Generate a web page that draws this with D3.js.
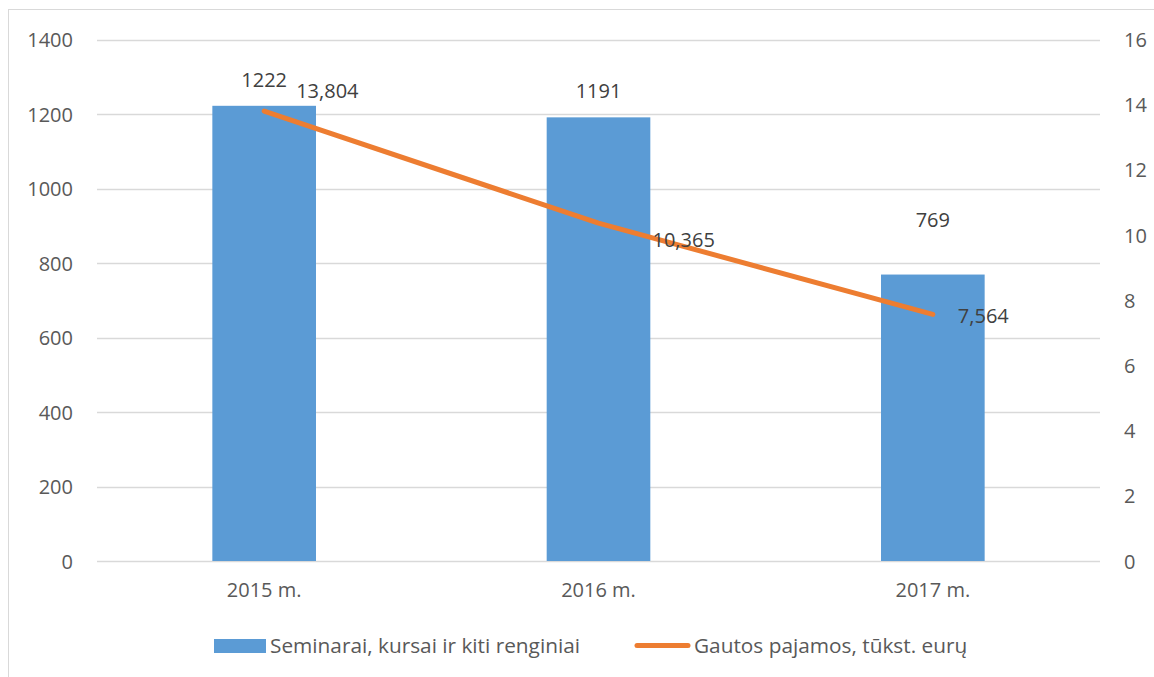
<!DOCTYPE html>
<html>
<head>
<meta charset="utf-8">
<script src="https://cdn.jsdelivr.net/npm/d3@7"></script>
<style>
  html, body { margin: 0; padding: 0; background: #fff; }
  svg { display: block; }
  text { font-family: "Open Sans", "Noto Sans", sans-serif; }
</style>
</head>
<body>
<svg id="chart" width="1154" height="677"></svg>
<script>
// ---- Data ----
const categories = ["2015 m.", "2016 m.", "2017 m."];
const eventCounts = [1222, 1191, 769];
const incomeValues = [13.804, 10.365, 7.564];
const incomeLabels = ["13,804", "10,365", "7,564"];
const leftTicks = [0, 200, 400, 600, 800, 1000, 1200, 1400];
const rightTicks = [0, 2, 4, 6, 8, 10, 12, 14, 16];
const seriesNames = ["Seminarai, kursai ir kiti renginiai", "Gautos pajamos, tūkst. eurų"];

// ---- Layout ----
const W = 1154, H = 677;
const plot = { left: 97, right: 1100, top: 39.5, bottom: 561 };
const barColor = "#5B9BD5", lineColor = "#ED7D31";
const gridColor = "#d9d9d9", tickColor = "#595959", labelColor = "#404040";
const fontSize = 20;

const svg = d3.select("#chart");
svg.append("rect").attr("width", W).attr("height", H).attr("fill", "#fff");
// chart border
svg.append("rect").attr("x", 8.5).attr("y", 9.5).attr("width", W + 10).attr("height", H + 10)
  .attr("fill", "none").attr("stroke", gridColor).attr("stroke-width", 1);

const x = d3.scaleBand().domain(categories).range([plot.left, plot.right])
  .paddingInner(0.69).paddingOuter(0.345);
const yL = d3.scaleLinear().domain([0, 1400]).range([plot.bottom, plot.top]);
const yR = d3.scaleLinear().domain([0, 16]).range([plot.bottom, plot.top]);
const cx = c => x(c) + x.bandwidth() / 2;

// gridlines
svg.append("g").selectAll("line").data(leftTicks).join("line")
  .attr("x1", plot.left).attr("x2", plot.right)
  .attr("y1", d => Math.round(yL(d)) + 0.5).attr("y2", d => Math.round(yL(d)) + 0.5)
  .attr("stroke", gridColor).attr("stroke-width", 1.5);

// left axis
const leftAxis = d3.axisLeft(yL).tickValues(leftTicks).tickFormat(d3.format("d")).tickSize(0).tickPadding(0);
const gL = svg.append("g").attr("transform", `translate(73,0)`).call(leftAxis);
gL.select(".domain").remove();
gL.selectAll("text").attr("font-size", fontSize).attr("fill", tickColor)
  .attr("font-family", "Open Sans").attr("dy", "0.35em");

// right axis
const rightAxis = d3.axisRight(yR).tickValues(rightTicks).tickFormat(d3.format("d")).tickSize(0).tickPadding(0);
const gR = svg.append("g").attr("transform", `translate(1124,0)`).call(rightAxis);
gR.select(".domain").remove();
gR.selectAll("text").attr("font-size", fontSize).attr("fill", tickColor)
  .attr("font-family", "Open Sans").attr("dy", "0.35em");

// bottom axis
const bottomAxis = d3.axisBottom(x).tickSize(0).tickPadding(0);
const gB = svg.append("g").attr("transform", `translate(0,${plot.bottom + 22})`).call(bottomAxis);
gB.select(".domain").remove();
gB.selectAll("text").attr("font-size", fontSize).attr("fill", tickColor)
  .attr("font-family", "Open Sans").attr("dy", "0.7em");

// bars
svg.append("g").selectAll("rect").data(eventCounts).join("rect")
  .attr("x", (d, i) => x(categories[i]))
  .attr("width", x.bandwidth())
  .attr("y", d => yL(d))
  .attr("height", d => plot.bottom - yL(d))
  .attr("fill", barColor);

// bar labels (Excel moved the last label up to clear the line)
const barLabelLift = { "2017 m.": 29 };
svg.append("g").selectAll("text").data(eventCounts).join("text")
  .attr("x", (d, i) => cx(categories[i]))
  .attr("y", (d, i) => yL(d) - 26 - (barLabelLift[categories[i]] || 0))
  .attr("dy", "0.35em")
  .attr("text-anchor", "middle")
  .attr("font-size", fontSize).attr("fill", labelColor)
  .text(d => d);

// line
const line = d3.line().x((d, i) => cx(categories[i])).y(d => yR(d));
svg.append("path").datum(incomeValues)
  .attr("d", line).attr("fill", "none")
  .attr("stroke", lineColor).attr("stroke-width", 5)
  .attr("stroke-linecap", "round").attr("stroke-linejoin", "round");

// line labels (manually placed offsets as in the reference)
const lineLabelOffset = [[32, -20], [54, 17], [25, 1.5]];
svg.append("g").selectAll("text").data(incomeValues).join("text")
  .attr("x", (d, i) => cx(categories[i]) + lineLabelOffset[i][0])
  .attr("y", (d, i) => yR(d) + lineLabelOffset[i][1])
  .attr("dy", "0.35em")
  .attr("font-size", fontSize).attr("fill", labelColor)
  .text((d, i) => incomeLabels[i]);

// legend
const lg = svg.append("g");
lg.append("rect").attr("x", 214).attr("y", 639).attr("width", 52).attr("height", 14).attr("fill", barColor);
lg.append("text").attr("x", 270).attr("y", 646).attr("dy", "0.35em")
  .attr("font-size", 20.8).attr("fill", tickColor).text(seriesNames[0]);
lg.append("line").attr("x1", 637).attr("x2", 688).attr("y1", 645.5).attr("y2", 645.5)
  .attr("stroke", lineColor).attr("stroke-width", 5).attr("stroke-linecap", "round");
lg.append("text").attr("x", 694).attr("y", 646).attr("dy", "0.35em")
  .attr("font-size", 20.8).attr("fill", tickColor).text(seriesNames[1]);
</script>
</body>
</html>
